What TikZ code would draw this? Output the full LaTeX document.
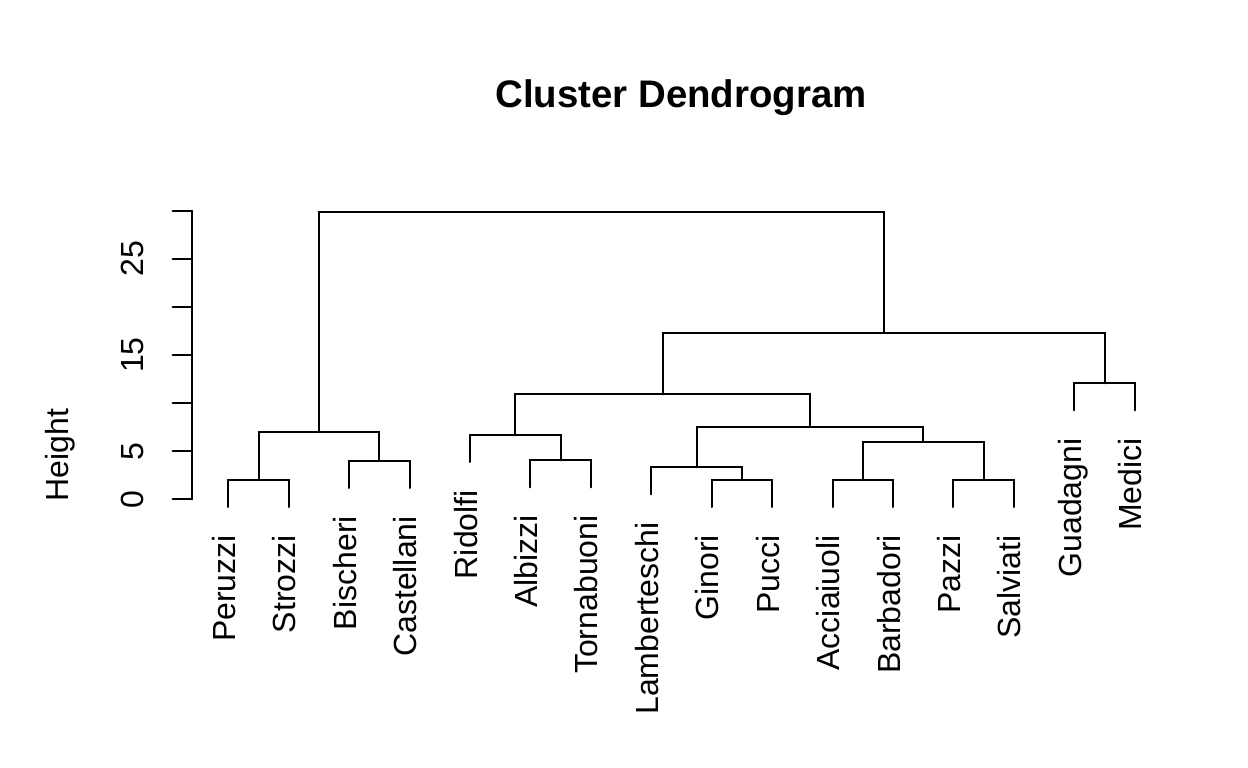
\documentclass[tikz,border=0pt]{standalone}
\usepackage{fontspec}
\setmainfont{Liberation Sans}
\begin{document}
\begin{tikzpicture}[x=1pt,y=-1pt,
  seg/.style={line width=2pt, line cap=round, line join=miter},
  leaflab/.style={rotate=90, anchor=base east, inner sep=0pt, font=\fontsize{32}{38}\selectfont},
  ticklab/.style={rotate=90, anchor=base, inner sep=0pt, font=\fontsize{32}{38}\selectfont},
  titlelab/.style={anchor=base, inner sep=0pt, font=\fontsize{38.4}{46}\selectfont\bfseries}]
\useasboundingbox[fill=white] (0,0) rectangle (1248,768);
% title
\node[titlelab] (title) at (681,107) {Cluster Dendrogram};
% y axis
\coordinate (ax0) at (191.7,499.3);
\coordinate (ax30) at (191.7,210.7);
\draw[seg] (ax0) -- (ax30);
\foreach \yy in {499.3,451.2,403.1,355.0,306.9,258.8,210.7}{
  \draw[seg] (172.7,\yy) -- (191.7,\yy);
}
\node[ticklab] (t0) at (143.3,499.3) {0};
\node[ticklab] (t5) at (143.3,451.2) {5};
\node[ticklab] (t15) at (143.3,355.0) {15};
\node[ticklab] (t25) at (143.3,258.8) {25};
\node[ticklab] (ylab) at (68.3,455) {Height};
% leaf ends
\coordinate (L0) at (228.3,507);
\coordinate (L1) at (288.73,507);
\coordinate (L2) at (349.16,488);
\coordinate (L3) at (409.59,488);
\coordinate (L4) at (470.02,462);
\coordinate (L5) at (530.45,487.3);
\coordinate (L6) at (590.88,487.3);
\coordinate (L7) at (651.31,494.3);
\coordinate (L8) at (711.74,507);
\coordinate (L9) at (772.17,507);
\coordinate (L10) at (832.6,507);
\coordinate (L11) at (893.03,507);
\coordinate (L12) at (953.46,507);
\coordinate (L13) at (1013.89,507);
\coordinate (L14) at (1074.32,410.3);
\coordinate (L15) at (1134.75,410.3);
% merges
\coordinate (mPS) at (258.5,480);
\coordinate (mBC) at (379.4,461);
\coordinate (mLeft) at (318.95,431.7);
\coordinate (mAT) at (560.67,460.3);
\coordinate (mRAT) at (515.3,435);
\coordinate (mGP) at (741.96,480);
\coordinate (mLGP) at (696.6,467.3);
\coordinate (mAB) at (862.8,480);
\coordinate (mPzS) at (983.7,480);
\coordinate (mABPS) at (923.25,442);
\coordinate (mMid) at (809.9,427);
\coordinate (mCen) at (662.6,394.3);
\coordinate (mGM) at (1104.5,383.3);
\coordinate (mRight) at (883.55,332.7);
\coordinate (mTop) at (601.25,211.7);
% dendrogram
\draw[seg] (L0) |- (mPS) -| (L1);
\draw[seg] (L2) |- (mBC) -| (L3);
\draw[seg] (mPS) |- (mLeft) -| (mBC);
\draw[seg] (L5) |- (mAT) -| (L6);
\draw[seg] (L4) |- (mRAT) -| (mAT);
\draw[seg] (L8) |- (mGP) -| (L9);
\draw[seg] (L7) |- (mLGP) -| (mGP);
\draw[seg] (L10) |- (mAB) -| (L11);
\draw[seg] (L12) |- (mPzS) -| (L13);
\draw[seg] (mAB) |- (mABPS) -| (mPzS);
\draw[seg] (mLGP) |- (mMid) -| (mABPS);
\draw[seg] (mRAT) |- (mCen) -| (mMid);
\draw[seg] (L14) |- (mGM) -| (L15);
\draw[seg] (mCen) |- (mRight) -| (mGM);
\draw[seg] (mLeft) |- (mTop) -| (mRight);
% labels
\node[leaflab] (n0) at ([shift={(7,28)}]L0) {Peruzzi};
\node[leaflab] (n1) at ([shift={(7,28)}]L1) {Strozzi};
\node[leaflab] (n2) at ([shift={(7,28)}]L2) {Bischeri};
\node[leaflab] (n3) at ([shift={(7,28)}]L3) {Castellani};
\node[leaflab] (n4) at ([shift={(7,28)}]L4) {Ridolfi};
\node[leaflab] (n5) at ([shift={(7,28)}]L5) {Albizzi};
\node[leaflab] (n6) at ([shift={(7,28)}]L6) {Tornabuoni};
\node[leaflab] (n7) at ([shift={(7,28)}]L7) {Lamberteschi};
\node[leaflab] (n8) at ([shift={(7,28)}]L8) {Ginori};
\node[leaflab] (n9) at ([shift={(7,28)}]L9) {Pucci};
\node[leaflab] (n10) at ([shift={(7,28)}]L10) {Acciaiuoli};
\node[leaflab] (n11) at ([shift={(7,28)}]L11) {Barbadori};
\node[leaflab] (n12) at ([shift={(7,28)}]L12) {Pazzi};
\node[leaflab] (n13) at ([shift={(7,28)}]L13) {Salviati};
\node[leaflab] (n14) at ([shift={(7,28)}]L14) {Guadagni};
\node[leaflab] (n15) at ([shift={(7,28)}]L15) {Medici};
\end{tikzpicture}
\end{document}
